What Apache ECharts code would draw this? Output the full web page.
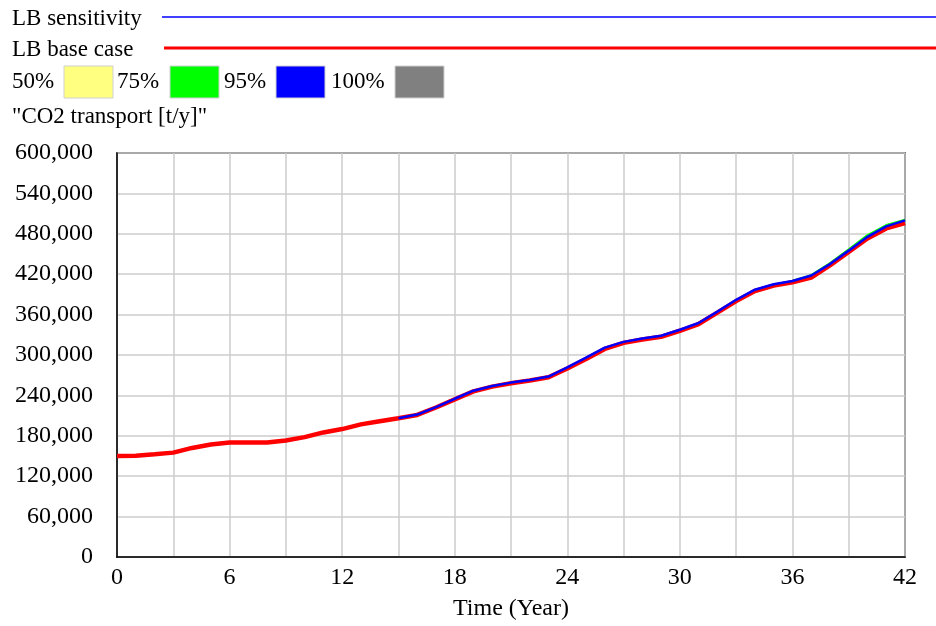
<!DOCTYPE html>
<html><head><meta charset="utf-8">
<script src="https://cdn.jsdelivr.net/npm/echarts@6/dist/echarts.min.js"></script>
<style>html,body{margin:0;padding:0;background:#fff}#c{width:936px;height:626px}</style>
</head><body><div id="c"></div>
<script>
var years = [0,1,2,3,4,5,6,7,8,9,10,11,12,13,14,15,16,17,18,19,20,21,22,23,24,25,26,27,28,29,30,31,32,33,34,35,36,37,38,39,40,41,42];
var baseCase = [150000,150500,152500,155000,162000,167000,170000,170000,170000,173000,178000,185000,190000,197000,201500,206000,211000,222000,234000,246000,253000,258000,262000,267000,280000,294000,309000,318000,323000,327000,336000,346000,363000,380000,395000,403000,408000,415000,433000,453000,473000,488000,496000];
var sensitivity = [null,null,null,null,null,null,null,null,null,null,null,null,null,null,null,206000,211500,222500,235000,247000,254000,259000,263000,268000,281500,296000,311000,319500,324500,328500,337500,347500,364500,382000,397000,405000,410000,418000,435000,455000,475500,491000,500000];
var band95High = [null,null,null,null,null,null,null,null,null,null,null,null,null,null,null,null,null,null,null,null,null,null,null,null,null,null,null,null,null,null,null,null,null,null,null,null,410500,418500,436500,457000,478000,493000,501000];
var yTicks = [0,60000,120000,180000,240000,300000,360000,420000,480000,540000,600000];
var xTicks = [0,6,12,18,24,30,36,42];
var bandLabels = ['50%','75%','95%','100%'];
var bandColors = ['#ffff80','#00ff00','#0000ff','#808080'];

function pairs(arr){ return years.map(function(t,i){ return [t, arr[i]]; }); }

var chart = echarts.init(document.getElementById('c'));
var F = 'Liberation Serif, Times New Roman, serif';
var graphics = [
  {type:'text', x:12, y:19, style:{text:'LB sensitivity', font:'23px '+F, fill:'#000', verticalAlign:'middle'}},
  {type:'line', shape:{x1:162,y1:17,x2:936,y2:17}, style:{stroke:'#0000ff', lineWidth:1.5}},
  {type:'text', x:12, y:50, style:{text:'LB base case', font:'23px '+F, fill:'#000', verticalAlign:'middle'}},
  {type:'line', shape:{x1:164,y1:48,x2:936,y2:48}, style:{stroke:'#ff0000', lineWidth:3}},
  {type:'text', x:12, y:117, style:{text:'"CO2 transport [t/y]"', font:'23px '+F, fill:'#000', verticalAlign:'middle'}}
];
var bx = [12,117,224,331];
var boxX = [64,170,276,395];
bandLabels.forEach(function(l,i){
  graphics.push({type:'text', x:bx[i], y:82, style:{text:l, font:'23px '+F, fill:'#000', verticalAlign:'middle'}});
  graphics.push({type:'rect', shape:{x:boxX[i], y:66, width:49, height:32}, style:{fill:bandColors[i], stroke:'#d0d0d0', lineWidth:1}});
});

chart.setOption({
  animation:false,
  graphic: graphics,
  grid:{left:117, right:31, top:153, bottom:69, show:true, borderColor:'#000', borderWidth:1.5, containLabel:false, outerBoundsMode:'none'},
  xAxis:{type:'value', min:0, max:42, interval:3,
    name:'Time (Year)', nameLocation:'middle', nameGap:40,
    nameTextStyle:{fontFamily:F, fontSize:24, color:'#000'},
    axisLine:{show:true, lineStyle:{color:'#000', width:1.5}},
    axisTick:{show:false},
    axisLabel:{fontFamily:F, fontSize:24, color:'#000', margin:9,
      formatter:function(v){ return xTicks.indexOf(v) >= 0 ? String(v) : ''; }},
    splitLine:{show:true, lineStyle:{color:'#cccccc', width:1.5}}
  },
  yAxis:{type:'value', min:0, max:600000, interval:60000,
    axisLine:{show:true, lineStyle:{color:'#000', width:1.5}},
    axisTick:{show:false},
    axisLabel:{fontFamily:F, fontSize:24, color:'#000', margin:24,
      formatter:function(v){ return yTicks.indexOf(v) >= 0 ? v.toLocaleString('en-US') : ''; }},
    splitLine:{show:true, lineStyle:{color:'#cccccc', width:1.5}}
  },
  series:[
    {name:'95% band', type:'line', data:pairs(band95High), showSymbol:false, symbol:'none', lineStyle:{color:'#00ff00', width:2}, z:2},
    {name:'LB base case', type:'line', data:pairs(baseCase), showSymbol:false, symbol:'none', lineStyle:{color:'#ff0000', width:4.5}, z:3},
    {name:'LB sensitivity', type:'line', data:pairs(sensitivity), showSymbol:false, symbol:'none', lineStyle:{color:'#0000ff', width:2.5}, z:4}
  ]
});
</script></body></html>
